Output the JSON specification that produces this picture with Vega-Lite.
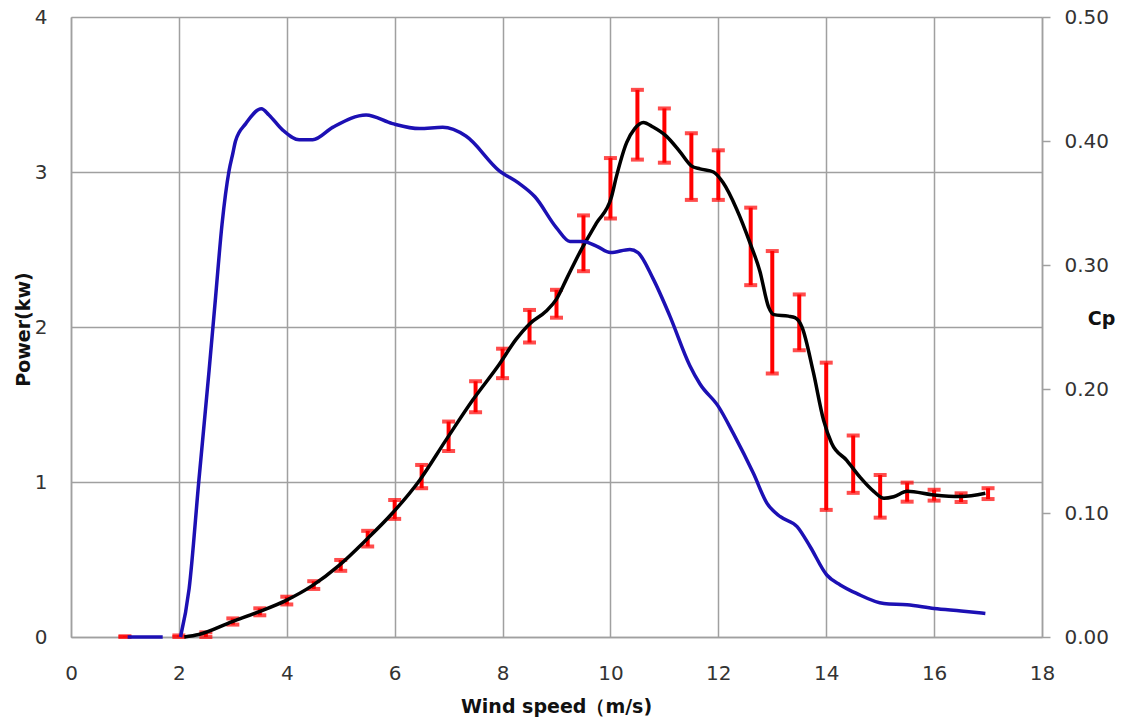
{
  "$schema": "https://vega.github.io/schema/vega-lite/v6.json",
  "width": 971,
  "height": 620,
  "autosize": {"type": "none"},
  "padding": {"left": 71, "top": 17, "right": 82, "bottom": 84},
  "background": "white",
  "config": {
    "view": {"stroke": null},
    "font": "DejaVu Sans",
    "axis": {
      "gridColor": "#A0A0A0",
      "gridWidth": 1.5,
      "domainColor": "#A0A0A0",
      "domainWidth": 1.5,
      "tickColor": "#A0A0A0",
      "tickWidth": 1.5,
      "labelFont": "DejaVu Sans",
      "labelFontSize": 20,
      "labelColor": "#333333",
      "labelFlush": false,
      "labelOverlap": false,
      "titleFont": "DejaVu Sans",
      "titleFontSize": 19,
      "titleFontWeight": "bold",
      "titleColor": "#111111"
    }
  },
  "datasets": {
    "cp": [
      {"x": 1.05, "cp": 0, "s": "a"}, {"x": 1.7, "cp": 0, "s": "a"},
      {"x": 2.03, "cp": 0, "s": "b"}, {"x": 2.19, "cp": 0.039, "s": "b"}, {"x": 2.37, "cp": 0.126, "s": "b"},
      {"x": 2.56, "cp": 0.215, "s": "b"}, {"x": 2.68, "cp": 0.274, "s": "b"}, {"x": 2.8, "cp": 0.333, "s": "b"},
      {"x": 2.93, "cp": 0.376, "s": "b"}, {"x": 3.0, "cp": 0.39, "s": "b"}, {"x": 3.05, "cp": 0.4, "s": "b"},
      {"x": 3.24, "cp": 0.414, "s": "b"}, {"x": 3.53, "cp": 0.426, "s": "b"}, {"x": 3.67, "cp": 0.421, "s": "b"},
      {"x": 3.92, "cp": 0.409, "s": "b"}, {"x": 4.23, "cp": 0.401, "s": "b"}, {"x": 4.48, "cp": 0.401, "s": "b"},
      {"x": 4.85, "cp": 0.411, "s": "b"}, {"x": 5.47, "cp": 0.421, "s": "b"}, {"x": 5.96, "cp": 0.414, "s": "b"},
      {"x": 6.46, "cp": 0.41, "s": "b"}, {"x": 6.89, "cp": 0.411, "s": "b"}, {"x": 7.32, "cp": 0.404, "s": "b"},
      {"x": 7.94, "cp": 0.376, "s": "b"}, {"x": 8.3, "cp": 0.366, "s": "b"}, {"x": 8.6, "cp": 0.355, "s": "b"},
      {"x": 9.0, "cp": 0.33, "s": "b"}, {"x": 9.25, "cp": 0.319, "s": "b"}, {"x": 9.5, "cp": 0.319, "s": "b"},
      {"x": 9.75, "cp": 0.315, "s": "b"}, {"x": 10.0, "cp": 0.31, "s": "b"}, {"x": 10.36, "cp": 0.3125, "s": "b"},
      {"x": 10.51, "cp": 0.31, "s": "b"}, {"x": 10.79, "cp": 0.289, "s": "b"}, {"x": 11.1, "cp": 0.259, "s": "b"},
      {"x": 11.47, "cp": 0.219, "s": "b"}, {"x": 11.66, "cp": 0.204, "s": "b"}, {"x": 12.0, "cp": 0.186, "s": "b"},
      {"x": 12.28, "cp": 0.164, "s": "b"}, {"x": 12.65, "cp": 0.132, "s": "b"}, {"x": 12.9, "cp": 0.108, "s": "b"},
      {"x": 13.15, "cp": 0.097, "s": "b"}, {"x": 13.46, "cp": 0.089, "s": "b"}, {"x": 13.7, "cp": 0.073, "s": "b"},
      {"x": 14.01, "cp": 0.05, "s": "b"}, {"x": 14.26, "cp": 0.042, "s": "b"}, {"x": 14.57, "cp": 0.035, "s": "b"},
      {"x": 15.07, "cp": 0.027, "s": "b"}, {"x": 15.5, "cp": 0.026, "s": "b"}, {"x": 16.0, "cp": 0.023, "s": "b"},
      {"x": 16.5, "cp": 0.021, "s": "b"}, {"x": 16.95, "cp": 0.019, "s": "b"}
    ],
    "power": [
      {"x": 2.1, "p": 0}, {"x": 2.37, "p": 0.016}, {"x": 2.99, "p": 0.099}, {"x": 3.49, "p": 0.164},
      {"x": 3.98, "p": 0.235}, {"x": 4.48, "p": 0.333}, {"x": 4.97, "p": 0.462}, {"x": 5.47, "p": 0.626},
      {"x": 5.96, "p": 0.8}, {"x": 6.46, "p": 1.01}, {"x": 6.95, "p": 1.27}, {"x": 7.45, "p": 1.53},
      {"x": 7.94, "p": 1.76}, {"x": 8.25, "p": 1.92}, {"x": 8.5, "p": 2.02}, {"x": 8.8, "p": 2.1},
      {"x": 9.0, "p": 2.18}, {"x": 9.2, "p": 2.32}, {"x": 9.43, "p": 2.48}, {"x": 9.74, "p": 2.67},
      {"x": 10.02, "p": 2.84}, {"x": 10.11, "p": 2.97}, {"x": 10.3, "p": 3.19}, {"x": 10.45, "p": 3.28},
      {"x": 10.61, "p": 3.32}, {"x": 10.79, "p": 3.29}, {"x": 11.04, "p": 3.23}, {"x": 11.29, "p": 3.13},
      {"x": 11.5, "p": 3.04}, {"x": 11.66, "p": 3.02}, {"x": 11.91, "p": 3.0}, {"x": 12.09, "p": 2.93},
      {"x": 12.34, "p": 2.76}, {"x": 12.59, "p": 2.54}, {"x": 12.77, "p": 2.36}, {"x": 12.93, "p": 2.13},
      {"x": 13.03, "p": 2.08}, {"x": 13.3, "p": 2.07}, {"x": 13.42, "p": 2.06}, {"x": 13.55, "p": 2.0},
      {"x": 13.76, "p": 1.71}, {"x": 13.95, "p": 1.4}, {"x": 14.1, "p": 1.25}, {"x": 14.38, "p": 1.14},
      {"x": 14.63, "p": 1.03}, {"x": 14.88, "p": 0.94}, {"x": 15.07, "p": 0.895}, {"x": 15.25, "p": 0.905},
      {"x": 15.5, "p": 0.94}, {"x": 16.0, "p": 0.916}, {"x": 16.5, "p": 0.906}, {"x": 16.95, "p": 0.927}
    ],
    "err": [
      {"x": 1.0, "lo": 0, "hi": 0.005}, {"x": 2.0, "lo": 0, "hi": 0.01}, {"x": 2.5, "lo": 0.0, "hi": 0.03},
      {"x": 3.0, "lo": 0.08, "hi": 0.12}, {"x": 3.5, "lo": 0.14, "hi": 0.185}, {"x": 4.0, "lo": 0.21, "hi": 0.26},
      {"x": 4.5, "lo": 0.31, "hi": 0.36}, {"x": 5.0, "lo": 0.427, "hi": 0.497}, {"x": 5.5, "lo": 0.584, "hi": 0.685},
      {"x": 6.0, "lo": 0.762, "hi": 0.884}, {"x": 6.5, "lo": 0.96, "hi": 1.11}, {"x": 7.0, "lo": 1.2, "hi": 1.39},
      {"x": 7.5, "lo": 1.45, "hi": 1.65}, {"x": 8.0, "lo": 1.67, "hi": 1.86}, {"x": 8.5, "lo": 1.9, "hi": 2.11},
      {"x": 9.0, "lo": 2.06, "hi": 2.24}, {"x": 9.5, "lo": 2.36, "hi": 2.72}, {"x": 10.0, "lo": 2.7, "hi": 3.09},
      {"x": 10.5, "lo": 3.08, "hi": 3.53}, {"x": 11.0, "lo": 3.06, "hi": 3.41}, {"x": 11.5, "lo": 2.82, "hi": 3.25},
      {"x": 12.0, "lo": 2.82, "hi": 3.14}, {"x": 12.6, "lo": 2.27, "hi": 2.77}, {"x": 13.0, "lo": 1.7, "hi": 2.49},
      {"x": 13.5, "lo": 1.85, "hi": 2.21}, {"x": 14.0, "lo": 0.82, "hi": 1.77}, {"x": 14.5, "lo": 0.93, "hi": 1.3},
      {"x": 15.0, "lo": 0.77, "hi": 1.045}, {"x": 15.5, "lo": 0.873, "hi": 0.996}, {"x": 16.0, "lo": 0.88, "hi": 0.95},
      {"x": 16.5, "lo": 0.871, "hi": 0.927}, {"x": 17.0, "lo": 0.89, "hi": 0.96}
    ]
  },
  "layer": [
    {
      "layer": [
        {
          "data": {"name": "err"},
          "mark": {"type": "rule", "color": "#FF0000", "strokeWidth": 4},
          "encoding": {
            "x": {"field": "x", "type": "quantitative", "scale": {"domain": [0, 18], "nice": false},
                  "axis": {"title": "Wind speed（m/s)", "values": [0, 2, 4, 6, 8, 10, 12, 14, 16, 18], "format": "d", "grid": true, "ticks": false, "labelPadding": 26, "titleX": 485, "titleY": 69, "titleAlign": "center", "titleBaseline": "middle"}},
            "y": {"field": "lo", "type": "quantitative", "scale": {"domain": [0, 4], "nice": false},
                  "axis": {"title": "Power(kw)", "values": [0, 1, 2, 3, 4], "format": "d", "grid": true, "ticks": false, "labelPadding": 24, "titleAngle": -90, "titleX": -48, "titleY": 312, "titleAlign": "center", "titleBaseline": "middle"}},
            "y2": {"field": "hi"}
          }
        },
        {
          "data": {"name": "err"},
          "mark": {"type": "tick", "color": "#FF0000", "orient": "horizontal", "size": 13, "thickness": 4},
          "encoding": {
            "x": {"field": "x", "type": "quantitative", "title": "Wind speed（m/s)"},
            "y": {"field": "lo", "type": "quantitative", "title": "Power(kw)"}
          }
        },
        {
          "data": {"name": "err"},
          "mark": {"type": "tick", "color": "#FF0000", "orient": "horizontal", "size": 13, "thickness": 4},
          "encoding": {
            "x": {"field": "x", "type": "quantitative", "title": "Wind speed（m/s)"},
            "y": {"field": "hi", "type": "quantitative", "title": "Power(kw)"}
          }
        },
        {
          "data": {"name": "power"},
          "mark": {"type": "line", "color": "#000000", "strokeWidth": 3.5, "interpolate": "monotone"},
          "encoding": {
            "x": {"field": "x", "type": "quantitative", "title": "Wind speed（m/s)"},
            "y": {"field": "p", "type": "quantitative", "title": "Power(kw)"}
          }
        }
      ]
    },
    {
      "data": {"name": "cp"},
      "mark": {"type": "line", "color": "#1C10B4", "strokeWidth": 3.5, "interpolate": "monotone"},
      "encoding": {
        "x": {"field": "x", "type": "quantitative", "title": "Wind speed（m/s)"},
        "y": {"field": "cp", "type": "quantitative", "scale": {"domain": [0, 0.5], "nice": false},
              "axis": {"orient": "right", "title": "Cp", "values": [0, 0.1, 0.2, 0.3, 0.4, 0.5], "format": ".2f", "grid": false, "ticks": true, "tickSize": 8, "labelPadding": 14, "titleAngle": 0, "titleX": 59, "titleY": 301, "titleAlign": "center", "titleBaseline": "middle"}},
        "detail": {"field": "s", "type": "nominal"}
      }
    }
  ],
  "resolve": {"scale": {"y": "independent"}}
}
